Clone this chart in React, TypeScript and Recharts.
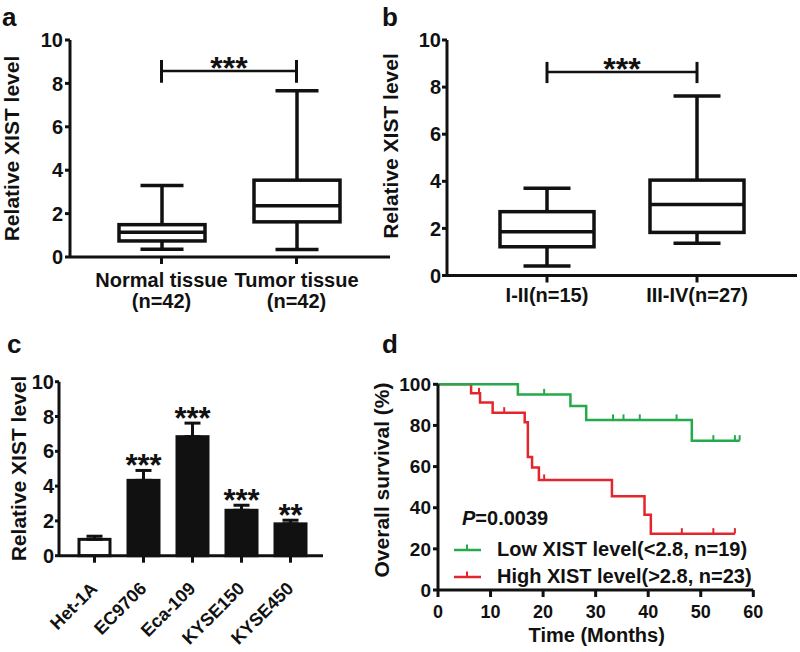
import React from 'react';
import { ComposedChart, Bar, XAxis, YAxis, ReferenceLine, ErrorBar, Cell, Line, Scatter, Legend } from 'recharts';

const FONT = '"Liberation Sans", Arial, Helvetica, sans-serif';
const INK = '#111';
const GREEN = '#25a94a';
const RED = '#e3262d';

// ---------- Panel a: tissue box plot ----------
const tissueGroups = ['Normal tissue', 'Tumor tissue'];
const tissueN = ['(n=42)', '(n=42)'];
const tissueMin = [0.36, 0.34];
const tissueQ1 = [0.74, 1.62];
const tissueMedian = [1.14, 2.36];
const tissueQ3 = [1.49, 3.54];
const tissueMax = [3.29, 7.66];
const tissueBracket = { y: 8.57, low: 8.03, high: 9.08, text: '***' };

// ---------- Panel b: stage box plot ----------
const stageGroups = ['I-II(n=15)', 'III-IV(n=27)'];
const stageMin = [0.4, 1.37];
const stageQ1 = [1.22, 1.83];
const stageMedian = [1.86, 3.02];
const stageQ3 = [2.71, 4.05];
const stageMax = [3.7, 7.62];
const stageBracket = { y: 8.64, low: 8.17, high: 9.07, text: '***' };

const levelTicks = [0, 2, 4, 6, 8, 10];

// ---------- Panel c: cell lines ----------
const cellLines = ['Het-1A', 'EC9706', 'Eca-109', 'KYSE150', 'KYSE450'];
const cellMean = [0.94, 4.33, 6.84, 2.61, 1.83];
const cellSem = [0.18, 0.57, 0.78, 0.29, 0.21];
const cellSig = ['', '***', '***', '***', '**'];

// ---------- Panel d: Kaplan-Meier ----------
const lowMonths = [0, 15.2, 25.2, 28.2, 48.3, 57.4];
const lowSurvival = [100, 95.1, 89.5, 82.7, 72.6, 72.6];
const lowCensorMonths = [20.2, 33.3, 35.3, 38.4, 45.4, 52.4, 56.5, 57.4];
const lowCensorSurvival = [95.1, 82.7, 82.7, 82.7, 82.7, 72.6, 72.6, 72.6];
const highMonths = [0, 6.3, 8.0, 10.4, 16.5, 17.1, 17.9, 19.2, 33.1, 39.3, 40.5, 56.5];
const highSurvival = [100, 95.6, 91.1, 86.2, 81.5, 64.6, 59.5, 53.5, 45.6, 36.6, 27.4, 27.4];
const highCensorMonths = [7.8, 12.6, 20.2, 46.4, 52.4, 56.5];
const highCensorSurvival = [95.6, 86.2, 53.5, 27.4, 27.4, 27.4];
const monthTicks = [0, 10, 20, 30, 40, 50, 60];
const survivalTicks = [0, 20, 40, 60, 80, 100];
const groupLabels = ['Low XIST level(<2.8, n=19)', 'High XIST level(>2.8, n=23)'];
const pValueText = '=0.0039';

// ---------- derived tables ----------
const tissueData = tissueGroups.map((group, i) => ({
  group, min: tissueMin[i], q1: tissueQ1[i], median: tissueMedian[i], q3: tissueQ3[i], max: tissueMax[i],
}));
const stageData = stageGroups.map((group, i) => ({
  group, min: stageMin[i], q1: stageQ1[i], median: stageMedian[i], q3: stageQ3[i], max: stageMax[i],
}));
const cellData = cellLines.map((name, i) => ({
  name, mean: cellMean[i], errRange: [0, cellSem[i]], sig: cellSig[i], sem: cellSem[i],
}));
const lowCurve = lowMonths.map((month, i) => ({ month, survival: lowSurvival[i] }));
const highCurve = highMonths.map((month, i) => ({ month, survival: highSurvival[i] }));
const lowCensor = lowCensorMonths.map((month, i) => ({ month, survival: lowCensorSurvival[i] }));
const highCensor = highCensorMonths.map((month, i) => ({ month, survival: highCensorSurvival[i] }));

// ---------- styles ----------
const axisLineStyle = { stroke: INK, strokeWidth: 3 };
const tickLineStyle = { stroke: INK, strokeWidth: 3 };
const tickFont = (size: number) => ({ fill: INK, fontSize: size, fontWeight: 700, fontFamily: FONT });

// ---------- helper components ----------
function YTitle(props: any) {
  const { px, py, text, size = 21 } = props;
  return (
    <text x={px} y={py} transform={`rotate(-90, ${px}, ${py})`} textAnchor="middle" dominantBaseline="central"
      fontSize={size} fontWeight={700} fontFamily={FONT} fill={INK}>{text}</text>
  );
}

function XTitle(props: any) {
  const { px, py, text, size = 20 } = props;
  return (
    <text x={px} y={py} textAnchor="middle" fontSize={size} fontWeight={700} fontFamily={FONT} fill={INK}>{text}</text>
  );
}

function BracketLabel(props: any) {
  const vb = props.viewBox || {};
  const { text } = props;
  const cx = (vb.x || 0) + (vb.width || 0) / 2;
  return (
    <text x={cx} y={(vb.y || 0) + 8} textAnchor="middle" fontSize={32} fontWeight={700} fontFamily={FONT} fill={INK}>{text}</text>
  );
}

function BoxShape(props: any) {
  const { x, y, width, height, payload } = props;
  if (!payload || !isFinite(y) || !isFinite(height)) return null;
  const top = Math.min(y, y + height);
  const h = Math.abs(height);
  const bottom = top + h;
  const k = h / payload.max;
  const yOf = (v: number) => bottom - v * k;
  const cx = x + width / 2;
  const cap = width / 4;
  return (
    <g stroke={INK} strokeWidth={3.5} fill="none">
      <line x1={cx} x2={cx} y1={yOf(payload.max)} y2={yOf(payload.q3)} />
      <line x1={cx} x2={cx} y1={yOf(payload.q1)} y2={yOf(payload.min)} />
      <line x1={cx - cap} x2={cx + cap} y1={yOf(payload.max)} y2={yOf(payload.max)} />
      <line x1={cx - cap} x2={cx + cap} y1={yOf(payload.min)} y2={yOf(payload.min)} />
      <rect x={x} y={yOf(payload.q3)} width={width} height={yOf(payload.q1) - yOf(payload.q3)} fill="#fff" />
      <line x1={x} x2={x + width} y1={yOf(payload.median)} y2={yOf(payload.median)} />
    </g>
  );
}

function TissueTick(props: any) {
  const { x, y, payload, index } = props;
  const i = typeof index === 'number' ? index : tissueGroups.indexOf(payload.value);
  return (
    <g>
      <text x={x} y={y + 21} textAnchor="middle" {...tickFont(20)}>{payload.value}</text>
      <text x={x} y={y + 42} textAnchor="middle" {...tickFont(20)}>{tissueN[i]}</text>
    </g>
  );
}

function StageTick(props: any) {
  const { x, y, payload } = props;
  return <text x={x} y={y + 17} textAnchor="middle" {...tickFont(20)}>{payload.value}</text>;
}

function RotTick(props: any) {
  const { x, y, payload } = props;
  const ax = x + 4;
  const ay = y + 25;
  return (
    <text x={ax} y={ay} transform={`rotate(-45, ${ax}, ${ay})`} textAnchor="end" {...tickFont(18)}>{payload.value}</text>
  );
}

function CellBarShape(props: any) {
  const { x, y, width, height, payload, fill, stroke } = props;
  if (!payload || !isFinite(y) || !isFinite(height)) return null;
  const top = Math.min(y, y + height);
  const h = Math.abs(height);
  const k = h / payload.mean;
  const errTop = top - payload.sem * k;
  return (
    <g>
      <rect x={x} y={top} width={width} height={h} fill={fill} stroke={stroke} strokeWidth={3} />
      {payload.sig ? (
        <text x={x + width / 2} y={errTop + 6} textAnchor="middle" fontSize={31} fontWeight={700} fontFamily={FONT} fill={INK}>
          {payload.sig}
        </text>
      ) : null}
    </g>
  );
}

function CensorMark(props: any) {
  const { cx, cy, color } = props;
  if (!isFinite(cx) || !isFinite(cy)) return null;
  return <line x1={cx} x2={cx} y1={cy - 5.5} y2={cy} stroke={color} strokeWidth={2} />;
}

function KMLegend() {
  const colors = [GREEN, RED];
  return (
    <div style={{ fontFamily: FONT, fontWeight: 700, fontSize: 20, color: INK, whiteSpace: 'nowrap' }}>
      <div style={{ lineHeight: '28px', height: 28, marginBottom: 4, paddingLeft: 8 }}>
        <i>P</i>{pValueText}
      </div>
      {groupLabels.map((label, i) => (
        <div key={label} style={{ display: 'flex', alignItems: 'center', height: 27, lineHeight: '27px' }}>
          <svg width={43} height={27} style={{ display: 'block', flex: 'none' }}>
            <line x1={0} x2={27} y1={14} y2={14} stroke={colors[i]} strokeWidth={2.5} />
            <line x1={13} x2={13} y1={8.5} y2={14} stroke={colors[i]} strokeWidth={2} />
          </svg>
          <span>{label}</span>
        </div>
      ))}
    </div>
  );
}

function PanelLetters() {
  const letters = [
    { t: 'a', x: 2, y: 26 },
    { t: 'b', x: 382, y: 26 },
    { t: 'c', x: 7, y: 353 },
    { t: 'd', x: 382, y: 353 },
  ];
  return (
    <svg width={800} height={652} style={{ position: 'absolute', left: 0, top: 0, pointerEvents: 'none' }}>
      {letters.map((l) => (
        <text key={l.t} x={l.x} y={l.y} fontSize={26} fontWeight={700} fontFamily={FONT} fill={INK}>{l.t}</text>
      ))}
    </svg>
  );
}

export default function App() {
  return (
    <div style={{ position: 'absolute', left: 0, top: 0, width: 800, height: 652, background: '#fff', overflow: 'hidden' }}>
      {/* Panel a */}
      <div style={{ position: 'absolute', left: 0, top: 0 }}>
        <ComposedChart width={400} height={330} data={tissueData} margin={{ top: 40, right: 10, bottom: 13, left: 20 }}>
          <XAxis dataKey="group" type="category" interval={0} padding={{ left: 24, right: 26 }} height={60}
            axisLine={axisLineStyle} tickLine={tickLineStyle} tickSize={7} tickMargin={2} tick={<TissueTick />} />
          <YAxis domain={[0, 10]} ticks={levelTicks} interval={0} width={50} axisLine={axisLineStyle} tickLine={tickLineStyle}
            tickSize={5} tickMargin={2} tick={tickFont(20)}
            label={<YTitle px={11} py={148.5} text="Relative XIST level" />} />
          <Bar dataKey="max" barSize={86} shape={<BoxShape />} isAnimationActive={false} />
          <ReferenceLine segment={[{ x: tissueGroups[0], y: tissueBracket.y }, { x: tissueGroups[1], y: tissueBracket.y }]}
            stroke={INK} strokeWidth={2.5} label={<BracketLabel text={tissueBracket.text} />} />
          <ReferenceLine segment={[{ x: tissueGroups[0], y: tissueBracket.low }, { x: tissueGroups[0], y: tissueBracket.high }]}
            stroke={INK} strokeWidth={3} />
          <ReferenceLine segment={[{ x: tissueGroups[1], y: tissueBracket.low }, { x: tissueGroups[1], y: tissueBracket.high }]}
            stroke={INK} strokeWidth={3} />
        </ComposedChart>
      </div>

      {/* Panel b */}
      <div style={{ position: 'absolute', left: 360, top: 0 }}>
        <ComposedChart width={440} height={330} data={stageData} margin={{ top: 40, right: 3, bottom: 14.5, left: 47 }}>
          <XAxis dataKey="group" type="category" interval={0} padding={{ left: 25, right: 25 }} height={40}
            axisLine={axisLineStyle} tickLine={tickLineStyle} tickSize={7} tickMargin={2} tick={<StageTick />} />
          <YAxis domain={[0, 10]} ticks={levelTicks} interval={0} width={40} axisLine={axisLineStyle} tickLine={tickLineStyle}
            tickSize={5} tickMargin={1} tick={tickFont(20)}
            label={<YTitle px={30} py={146} text="Relative XIST level" />} />
          <Bar dataKey="max" barSize={94} shape={<BoxShape />} isAnimationActive={false} />
          <ReferenceLine segment={[{ x: stageGroups[0], y: stageBracket.y }, { x: stageGroups[1], y: stageBracket.y }]}
            stroke={INK} strokeWidth={2.5} label={<BracketLabel text={stageBracket.text} />} />
          <ReferenceLine segment={[{ x: stageGroups[0], y: stageBracket.low }, { x: stageGroups[0], y: stageBracket.high }]}
            stroke={INK} strokeWidth={3} />
          <ReferenceLine segment={[{ x: stageGroups[1], y: stageBracket.low }, { x: stageGroups[1], y: stageBracket.high }]}
            stroke={INK} strokeWidth={3} />
        </ComposedChart>
      </div>

      {/* Panel c */}
      <div style={{ position: 'absolute', left: 0, top: 330 }}>
        <ComposedChart width={360} height={322} data={cellData} margin={{ top: 51.7, right: 37, bottom: 16.3, left: 14 }}>
          <XAxis dataKey="name" type="category" interval={0} padding={{ left: 11, right: 8 }} height={80}
            axisLine={axisLineStyle} tickLine={tickLineStyle} tickSize={7} tickMargin={2} tick={<RotTick />} />
          <YAxis domain={[0, 10]} ticks={levelTicks} interval={0} width={45} axisLine={axisLineStyle} tickLine={tickLineStyle}
            tickSize={4} tickMargin={1} tick={tickFont(20)}
            label={<YTitle px={18} py={138.5} text="Relative XIST level" />} />
          <Bar dataKey="mean" barSize={31} shape={<CellBarShape />} isAnimationActive={false}>
            {cellData.map((d, i) => (
              <Cell key={d.name} fill={i === 0 ? '#fff' : INK} stroke={INK} />
            ))}
            <ErrorBar dataKey="errRange" width={8} strokeWidth={3} stroke={INK} direction="y" />
          </Bar>
        </ComposedChart>
      </div>

      {/* Panel d */}
      <div style={{ position: 'absolute', left: 360, top: 330 }}>
        <ComposedChart width={440} height={322} margin={{ top: 54.3, right: 46.7, bottom: 17, left: 28 }}>
          <XAxis dataKey="month" type="number" domain={[0, 60]} ticks={monthTicks} interval={0} height={45}
            axisLine={axisLineStyle} tickLine={tickLineStyle} tickSize={7} tickMargin={8} tick={tickFont(18)}
            label={<XTitle px={236.7} py={311.7} text="Time (Months)" />} />
          <YAxis type="number" domain={[0, 100]} ticks={survivalTicks} interval={0} width={50} axisLine={axisLineStyle}
            tickLine={tickLineStyle} tickSize={5} tickMargin={2} tick={tickFont(19)}
            label={<YTitle px={21} py={150} text="Overall survival (%)" />} />
          <Line data={highCurve} dataKey="survival" type="stepAfter" stroke={RED} strokeWidth={2.5} dot={false}
            isAnimationActive={false} legendType="none" />
          <Line data={lowCurve} dataKey="survival" type="stepAfter" stroke={GREEN} strokeWidth={2.5} dot={false}
            isAnimationActive={false} legendType="none" />
          <Scatter data={highCensor} dataKey="survival" shape={<CensorMark color={RED} />} isAnimationActive={false} legendType="none" />
          <Scatter data={lowCensor} dataKey="survival" shape={<CensorMark color={GREEN} />} isAnimationActive={false} legendType="none" />
          <Legend layout="vertical" align="center" verticalAlign="middle" content={<KMLegend />}
            wrapperStyle={{ left: 94, top: 174, width: 'auto', height: 'auto' }} />
        </ComposedChart>
      </div>

      <PanelLetters />
    </div>
  );
}
